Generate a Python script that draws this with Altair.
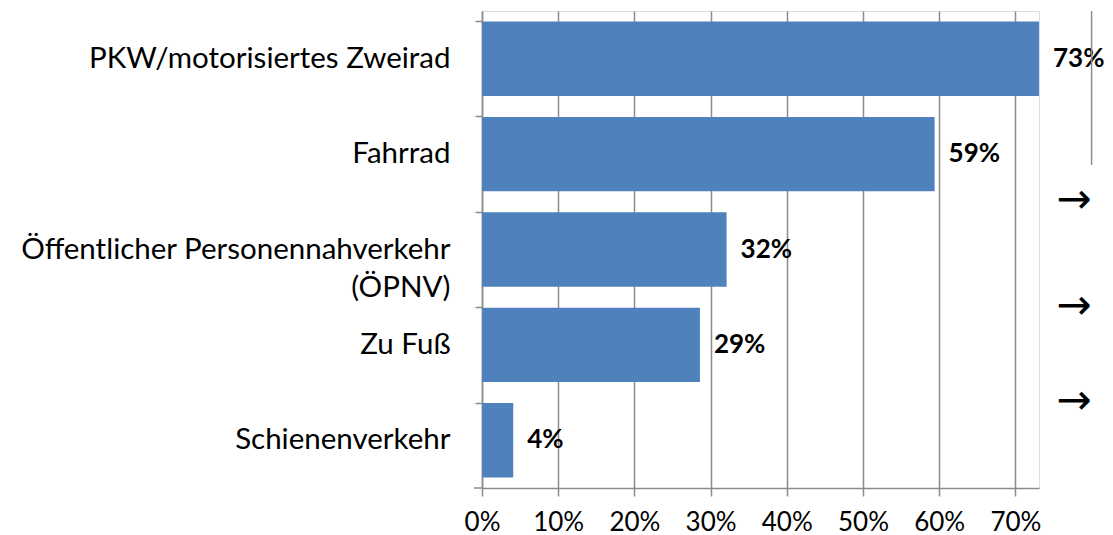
import altair as alt
import pandas as pd

categories = [
    "PKW/motorisiertes Zweirad",
    "Fahrrad",
    "Öffentlicher Personennahverkehr|(ÖPNV)",
    "Zu Fuß",
    "Schienenverkehr",
]
shares = [0.731, 0.594, 0.321, 0.286, 0.041]
tick_values = [0, 0.1, 0.2, 0.3, 0.4, 0.5, 0.6, 0.7]

df = pd.DataFrame({"cat": categories, "share": shares})

W, H = 557, 477
FONT = "Lato"
BLUE = "#4F81BD"
GRAY = "#8C8C8C"

x_scale = alt.Scale(domain=[0, 0.731], nice=False, zero=True)
y_scale = alt.Scale(domain=categories, paddingInner=0.22, paddingOuter=0.11)

base = alt.Chart(df)

bars = base.mark_bar(color=BLUE).encode(
    x=alt.X("share:Q", scale=x_scale,
            axis=alt.Axis(values=tick_values, format=".0%", title=None,
                          grid=True, gridColor=GRAY, gridWidth=1.5,
                          domainColor=GRAY, domainWidth=1.5,
                          tickColor=GRAY, tickWidth=1.5, tickSize=8,
                          labelFont=FONT, labelFontSize=26, labelColor="black",
                          labelPadding=13, labelFlush=False, labelOverlap=False)),
    y=alt.Y("cat:N", scale=y_scale, sort=categories,
            axis=alt.Axis(title=None, bandPosition=0, grid=False,
                          domainColor=GRAY, domainWidth=1.5,
                          tickColor=GRAY, tickWidth=1.5, tickSize=7,
                          labelFont=FONT, labelFontSize=29.5, labelColor="black",
                          labelPadding=25, labelLimit=600, labelLineHeight=38,
                          labelExpr="split(datum.label, '|')")),
)

labels = base.mark_text(align="left", baseline="middle", dx=14, font=FONT,
                        fontSize=26, fontWeight="bold", color="black").encode(
    x=alt.X("share:Q", scale=x_scale),
    y=alt.Y("cat:N", scale=y_scale, sort=categories),
    text=alt.Text("share:Q", format=".0%"),
)

bottom_tick = alt.Chart(pd.DataFrame({"a": [0]})).mark_rule(
    color=GRAY, strokeWidth=1.5).encode(
    x=alt.value(-8), x2=alt.value(0), y=alt.value(H))

grid80 = alt.Chart(pd.DataFrame({"a": [0]})).mark_rule(
    color=GRAY, strokeWidth=1.5).encode(
    x=alt.datum(0.8, scale=x_scale), y=alt.value(0), y2=alt.value(154))

arrow_y = [189, 295, 390]
arrows = alt.Chart(pd.DataFrame({"ay": arrow_y})).mark_text(
    text="→", font="DejaVu Sans", fontSize=42, color="black",
    align="center", baseline="middle").encode(
    x=alt.value(592), y=alt.Y("ay:Q", scale=None))

chart = alt.layer(bars, labels, bottom_tick, grid80, arrows).properties(
    width=W, height=H,
    autosize=alt.AutoSizeParams(type="none"),
    padding={"left": 474, "top": 3, "right": 66, "bottom": 50},
).configure_view(stroke=None).configure(background="white")

chart.save("out.html", embed_options={"renderer": "svg", "actions": False})
